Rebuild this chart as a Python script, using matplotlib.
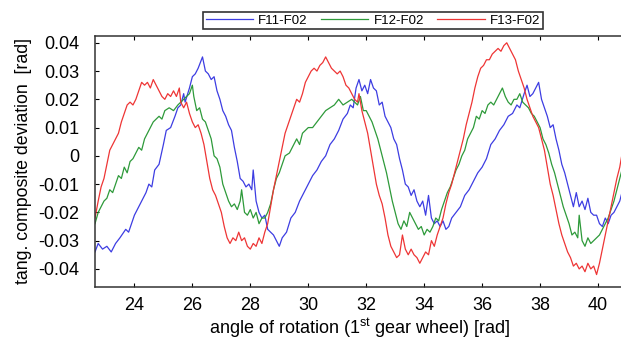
import matplotlib
matplotlib.use("Agg")
import matplotlib.pyplot as plt

plt.rcParams['font.family'] = ['Liberation Sans', 'DejaVu Sans']
plt.rcParams['axes.unicode_minus'] = False

# F11-F02 (blue)
x_f11 = [22.64, 22.75, 22.9, 23.05, 23.2, 23.35, 23.5, 23.7, 23.8, 24.0, 24.1, 24.3, 24.4, 24.5, 24.6, 24.7,
         24.85, 25.0, 25.1, 25.25, 25.4, 25.5, 25.6, 25.7, 25.75, 25.9, 26.0, 26.1, 26.2, 26.35, 26.45,
         26.55, 26.65, 26.75, 26.85, 26.95, 27.05, 27.15, 27.25, 27.35, 27.45, 27.55, 27.65, 27.75, 27.85,
         27.95, 28.05, 28.1, 28.2, 28.3, 28.4, 28.5, 28.6, 28.7, 28.8, 28.9, 29.0, 29.1, 29.25, 29.4,
         29.55, 29.7, 29.85, 30.0, 30.15, 30.3, 30.45, 30.6, 30.75, 30.9, 31.05, 31.2, 31.35, 31.45, 31.55,
         31.65, 31.75, 31.85, 31.95, 32.05, 32.15, 32.25, 32.35, 32.45, 32.55, 32.65, 32.75, 32.85, 32.95,
         33.05, 33.15, 33.25, 33.35, 33.45, 33.55, 33.65, 33.75, 33.85, 33.95, 34.05, 34.15, 34.25, 34.35,
         34.45, 34.55, 34.65, 34.75, 34.85, 34.95, 35.1, 35.25, 35.4, 35.55, 35.7, 35.85, 36.0, 36.15,
         36.3, 36.45, 36.6, 36.75, 36.9, 37.05, 37.2, 37.3, 37.45, 37.55, 37.65, 37.75, 37.85, 37.95,
         38.05, 38.15, 38.25, 38.35, 38.45, 38.55, 38.65, 38.75, 38.85, 38.95, 39.05, 39.15, 39.25, 39.35,
         39.45, 39.55, 39.65, 39.75, 39.85, 39.95, 40.05, 40.15, 40.25, 40.35, 40.45, 40.55, 40.65, 40.75, 40.85]
y_f11 = [-0.034, -0.031, -0.033, -0.032, -0.034, -0.031, -0.029, -0.026, -0.027, -0.021, -0.019, -0.015, -0.013, -0.010, -0.011, -0.005,
         -0.003, 0.004, 0.009, 0.010, 0.014, 0.017, 0.018, 0.022, 0.019, 0.024, 0.028, 0.029, 0.031, 0.035, 0.030,
         0.029, 0.027, 0.028, 0.023, 0.020, 0.016, 0.014, 0.011, 0.009, 0.003, -0.002, -0.008, -0.009, -0.011,
         -0.010, -0.012, -0.005, -0.016, -0.020, -0.022, -0.021, -0.026, -0.027, -0.028, -0.030, -0.032, -0.029, -0.027, -0.022,
         -0.020, -0.016, -0.013, -0.010, -0.007, -0.005, -0.002, 0.000, 0.004, 0.006, 0.009, 0.013, 0.015, 0.018, 0.017,
         0.024, 0.027, 0.023, 0.025, 0.022, 0.027, 0.024, 0.023, 0.018, 0.019, 0.014, 0.012, 0.010, 0.006,
         0.004, -0.001, -0.005, -0.010, -0.011, -0.014, -0.012, -0.016, -0.018, -0.016, -0.021, -0.014, -0.022, -0.024,
         -0.023, -0.025, -0.023, -0.026, -0.025, -0.022, -0.020, -0.018, -0.014, -0.012, -0.009, -0.006, -0.004, -0.001,
         0.004, 0.006, 0.009, 0.011, 0.014, 0.015, 0.018, 0.017, 0.022, 0.025, 0.021, 0.022, 0.024, 0.026,
         0.020, 0.017, 0.014, 0.010, 0.011, 0.006, 0.002, -0.003, -0.006, -0.010, -0.014, -0.018, -0.013, -0.018,
         -0.016, -0.019, -0.015, -0.020, -0.021, -0.021, -0.024, -0.025, -0.022, -0.024, -0.021, -0.020, -0.018, -0.016, -0.012]

# F12-F02 (green)
x_f12 = [22.64, 22.75, 22.85, 22.95, 23.05, 23.15, 23.25, 23.35, 23.45, 23.55, 23.65, 23.75, 23.85, 23.95,
         24.05, 24.15, 24.25, 24.35, 24.45, 24.55, 24.65, 24.75, 24.85, 24.95, 25.05, 25.2, 25.35, 25.5,
         25.6, 25.7, 25.8, 25.9, 26.0, 26.05, 26.15, 26.25, 26.35, 26.45, 26.55, 26.65, 26.75, 26.85, 26.95,
         27.05, 27.15, 27.25, 27.35, 27.45, 27.55, 27.65, 27.7, 27.8, 27.9, 28.0, 28.1, 28.2, 28.3, 28.4,
         28.5, 28.6, 28.7, 28.8, 28.9, 29.0, 29.1, 29.2, 29.35, 29.5, 29.6, 29.7, 29.8, 29.9, 30.0, 30.15,
         30.3, 30.45, 30.6, 30.75, 30.9, 31.05, 31.2, 31.35, 31.5, 31.6, 31.7, 31.8, 31.9, 32.0, 32.1, 32.2,
         32.3, 32.4, 32.5, 32.6, 32.7, 32.8, 32.9, 33.0, 33.1, 33.2, 33.3, 33.4, 33.5, 33.6, 33.7, 33.8,
         33.9, 34.0, 34.1, 34.2, 34.3, 34.4, 34.5, 34.6, 34.7, 34.8, 34.9, 35.0, 35.1, 35.2, 35.3, 35.4,
         35.5, 35.6, 35.7, 35.8, 35.9, 36.0, 36.1, 36.2, 36.3, 36.4, 36.5, 36.6, 36.7, 36.8, 36.9, 37.0,
         37.1, 37.2, 37.3, 37.4, 37.5, 37.6, 37.7, 37.8, 37.9, 38.0, 38.1, 38.2, 38.3, 38.4, 38.5, 38.6,
         38.7, 38.8, 38.9, 39.0, 39.1, 39.2, 39.3, 39.35, 39.45, 39.55, 39.65, 39.75, 39.85, 39.95, 40.05,
         40.15, 40.25, 40.35, 40.45, 40.55, 40.65, 40.75, 40.85]
y_f12 = [-0.024, -0.020, -0.018, -0.016, -0.015, -0.012, -0.013, -0.010, -0.007, -0.008, -0.004, -0.006, -0.002, -0.001,
         0.001, 0.003, 0.002, 0.006, 0.008, 0.010, 0.012, 0.013, 0.014, 0.013, 0.016, 0.017, 0.016, 0.018,
         0.019, 0.020, 0.021, 0.022, 0.025, 0.021, 0.016, 0.017, 0.013, 0.012, 0.009, 0.006, 0.000, -0.001, -0.004,
         -0.010, -0.013, -0.016, -0.018, -0.017, -0.019, -0.016, -0.012, -0.020, -0.021, -0.019, -0.022, -0.020, -0.024, -0.022,
         -0.022, -0.020, -0.017, -0.012, -0.008, -0.006, -0.003, 0.000, 0.001, 0.004, 0.006, 0.004, 0.008, 0.009, 0.010, 0.010,
         0.012, 0.014, 0.016, 0.017, 0.018, 0.020, 0.018, 0.019, 0.020, 0.019, 0.018, 0.021, 0.016, 0.016, 0.014, 0.012,
         0.009, 0.006, 0.002, -0.002, -0.006, -0.011, -0.016, -0.020, -0.024, -0.026, -0.023, -0.025, -0.020, -0.022, -0.024, -0.026,
         -0.025, -0.028, -0.026, -0.027, -0.025, -0.022, -0.023, -0.019, -0.016, -0.013, -0.011, -0.008, -0.005, -0.003, 0.000, 0.002,
         0.006, 0.008, 0.010, 0.014, 0.013, 0.016, 0.015, 0.018, 0.019, 0.018, 0.020, 0.022, 0.024, 0.021, 0.019, 0.018,
         0.020, 0.020, 0.022, 0.019, 0.018, 0.017, 0.015, 0.014, 0.012, 0.010, 0.006, 0.004, 0.001, -0.003, -0.006, -0.010,
         -0.014, -0.018, -0.021, -0.024, -0.028, -0.027, -0.029, -0.021, -0.030, -0.032, -0.029, -0.031, -0.030, -0.029, -0.028,
         -0.026, -0.024, -0.022, -0.019, -0.016, -0.012, -0.008, -0.004]

# F13-F02 (red)
x_f13 = [22.64, 22.75, 22.85, 22.95, 23.05, 23.15, 23.25, 23.35, 23.45, 23.55, 23.65, 23.75, 23.85, 23.95,
         24.05, 24.15, 24.25, 24.35, 24.45, 24.55, 24.65, 24.75, 24.85, 24.95, 25.05, 25.15, 25.25, 25.35,
         25.45, 25.55, 25.6, 25.7, 25.8, 25.9, 26.0, 26.1, 26.2, 26.3, 26.4, 26.5, 26.6, 26.7, 26.8, 26.9,
         27.0, 27.1, 27.2, 27.3, 27.4, 27.5, 27.6, 27.7, 27.8, 27.9, 28.0, 28.1, 28.2, 28.3, 28.4, 28.5,
         28.6, 28.7, 28.8, 28.9, 29.0, 29.1, 29.2, 29.3, 29.4, 29.5, 29.6, 29.7, 29.8, 29.9, 30.0, 30.1,
         30.2, 30.3, 30.4, 30.5, 30.6, 30.7, 30.8, 30.9, 31.0, 31.1, 31.2, 31.3, 31.4, 31.5, 31.6, 31.7,
         31.75, 31.85, 31.95, 32.05, 32.15, 32.25, 32.35, 32.45, 32.55, 32.65, 32.75, 32.85, 32.95, 33.05,
         33.15, 33.25, 33.35, 33.45, 33.55, 33.65, 33.75, 33.85, 33.95, 34.05, 34.15, 34.25, 34.35, 34.45,
         34.55, 34.65, 34.75, 34.85, 34.95, 35.05, 35.15, 35.25, 35.35, 35.45, 35.55, 35.65, 35.75, 35.85,
         35.95, 36.05, 36.15, 36.25, 36.35, 36.45, 36.55, 36.65, 36.75, 36.85, 36.95, 37.05, 37.15, 37.25,
         37.35, 37.45, 37.55, 37.65, 37.75, 37.85, 37.95, 38.05, 38.15, 38.25, 38.35, 38.45, 38.55, 38.65,
         38.75, 38.85, 38.95, 39.05, 39.15, 39.25, 39.35, 39.45, 39.55, 39.65, 39.75, 39.85, 39.95, 40.05,
         40.15, 40.25, 40.35, 40.45, 40.55, 40.65, 40.75, 40.85]
y_f13 = [-0.022, -0.016, -0.011, -0.008, -0.003, 0.002, 0.004, 0.006, 0.008, 0.012, 0.015, 0.018, 0.019, 0.018,
         0.020, 0.023, 0.026, 0.025, 0.026, 0.024, 0.027, 0.025, 0.023, 0.021, 0.020, 0.022, 0.021, 0.023,
         0.021, 0.024, 0.019, 0.017, 0.019, 0.015, 0.012, 0.010, 0.011, 0.008, 0.004, -0.002, -0.008, -0.012, -0.014, -0.017,
         -0.020, -0.025, -0.029, -0.031, -0.029, -0.030, -0.027, -0.030, -0.029, -0.032, -0.033, -0.031, -0.032, -0.029, -0.031, -0.027,
         -0.024, -0.018, -0.012, -0.007, -0.002, 0.003, 0.008, 0.011, 0.014, 0.017, 0.020, 0.019, 0.022, 0.026, 0.028, 0.030,
         0.031, 0.030, 0.032, 0.033, 0.035, 0.033, 0.031, 0.030, 0.029, 0.030, 0.028, 0.025, 0.024, 0.022, 0.020, 0.019,
         0.022, 0.016, 0.012, 0.008, 0.002, -0.004, -0.010, -0.014, -0.017, -0.022, -0.028, -0.032, -0.034, -0.036,
         -0.035, -0.028, -0.033, -0.035, -0.033, -0.035, -0.036, -0.038, -0.036, -0.034, -0.035, -0.030, -0.032, -0.028,
         -0.025, -0.022, -0.017, -0.013, -0.010, -0.006, -0.002, 0.002, 0.006, 0.011, 0.015, 0.019, 0.024, 0.028,
         0.031, 0.032, 0.034, 0.034, 0.036, 0.037, 0.038, 0.037, 0.039, 0.040, 0.038, 0.036, 0.034, 0.030,
         0.027, 0.024, 0.020, 0.017, 0.014, 0.012, 0.010, 0.006, 0.002, -0.004, -0.010, -0.014, -0.019, -0.024,
         -0.028, -0.031, -0.034, -0.036, -0.039, -0.038, -0.040, -0.039, -0.041, -0.038, -0.040, -0.039, -0.042, -0.038,
         -0.033, -0.028, -0.023, -0.018, -0.013, -0.008, -0.004, 0.002]

x_ticks = [24, 26, 28, 30, 32, 34, 36, 38, 40]
y_ticks = [-0.04, -0.03, -0.02, -0.01, 0, 0.01, 0.02, 0.03, 0.04]
y_ticklabels = ['-0.04', '-0.03', '-0.02', '-0.01', '0', '0.01', '0.02', '0.03', '0.04']

fig = plt.figure(figsize=(6.21, 3.39), dpi=100)
ax = fig.add_axes([95/621, 1-287/339, 1.005-95/621, (287-36)/339])

l1, = ax.plot(x_f11, y_f11, color='#3d3de2', lw=0.9, label='F11-F02')
l2, = ax.plot(x_f12, y_f12, color='#2e9a3a', lw=0.9, label='F12-F02')
l3, = ax.plot(x_f13, y_f13, color='#ee3535', lw=0.9, label='F13-F02')

ax.set_xlim(22.64, 40.9)
ax.set_ylim(-0.0464, 0.0424)
ax.set_xticks(x_ticks)
ax.set_yticks(y_ticks)
ax.set_yticklabels(y_ticklabels)
ax.tick_params(direction='in', top=True, right=False, length=3, width=0.8)
ax.tick_params(axis='x', labelsize=13, pad=7)
ax.tick_params(axis='y', labelsize=13, pad=11)
for s in ax.spines.values():
    s.set_linewidth(1.1)
    s.set_color('#333333')
ax.spines['right'].set_visible(False)

ax.set_xlabel('angle of rotation (1$^{\\mathregular{st}}$ gear wheel) [rad]', fontsize=13, labelpad=2)
ax.set_ylabel('tang. composite deviation  [rad]', fontsize=12.8, labelpad=5)

leg = fig.legend(handles=[l1, l2, l3], loc='center', bbox_to_anchor=(373/621, 1-20.5/339), ncol=3,
                 fontsize=9.5, frameon=True, fancybox=False, edgecolor='black', handlelength=3.6,
                 borderpad=0.2, columnspacing=1.0, handletextpad=0.4, borderaxespad=0)
leg.get_frame().set_linewidth(1.2)

fig.savefig('out.png', dpi=100)
